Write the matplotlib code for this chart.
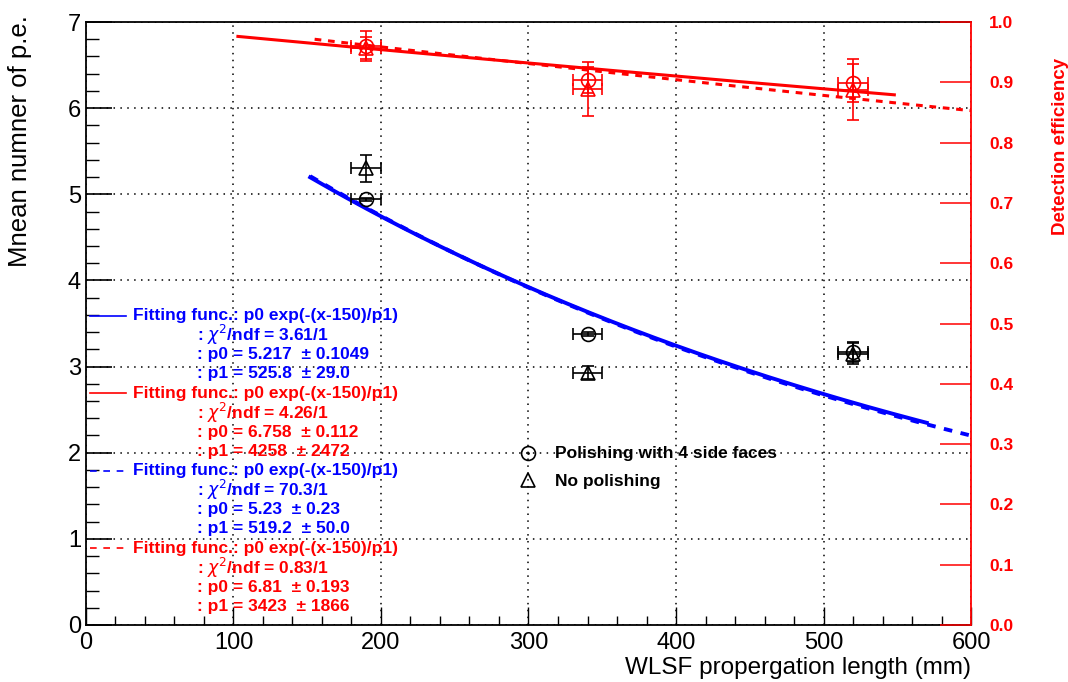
import numpy as np
import matplotlib.pyplot as plt
from matplotlib.ticker import MultipleLocator

plt.rcParams['font.family'] = ['Liberation Sans', 'DejaVu Sans']

# measured points: propagation length (mm)
length = [190, 340, 520]
length_err = [10, 10, 10]

# mean number of p.e.
pe_polished = [4.94, 3.38, 3.17]
pe_polished_err = [0.02, 0.02, 0.12]
pe_nopolish = [5.30, 2.93, 3.15]
pe_nopolish_err = [0.16, 0.08, 0.12]

# detection efficiency
eff_polished = [0.960, 0.904, 0.899]
eff_polished_err = [0.025, 0.022, 0.032]
eff_nopolish = [0.957, 0.889, 0.888]
eff_nopolish_err = [0.018, 0.045, 0.050]

# fit results p0 exp(-(x-150)/p1): (colour, style, x range, chi2, p0, p0 err, p1, p1 err)
fits = [
    ('blue', '-',  (152, 570), '3.61/1', '5.217', '0.1049', '525.8', '29.0'),
    ('red',  '-',  (103, 548), '4.26/1', '6.758', '0.112', '4258', '2472'),
    ('blue', '--', (152, 600), '70.3/1', '5.23', '0.23', '519.2', '50.0'),
    ('red',  '--', (155, 600), '0.83/1', '6.81', '0.193', '3423', '1866'),
]

fig = plt.figure(figsize=(10.68, 6.82), dpi=100)
ax = fig.add_axes([0.0805, 0.0836, 0.8287, 0.8841])
ax.set_xlim(0, 600)
ax.set_ylim(0, 7)

ax.xaxis.set_major_locator(MultipleLocator(100))
ax.xaxis.set_minor_locator(MultipleLocator(20))
ax.yaxis.set_major_locator(MultipleLocator(1))
ax.yaxis.set_minor_locator(MultipleLocator(0.2))
ax.tick_params(which='major', axis='y', direction='in', length=19, width=1.2, labelsize=17)
ax.tick_params(which='minor', axis='y', direction='in', length=9.5, width=1.0)
ax.tick_params(which='major', axis='x', direction='in', length=13, width=1.0, labelsize=17, pad=5)
ax.tick_params(which='minor', axis='x', direction='in', length=6.5, width=1.0)
ax.grid(True, which='major', color='black', linestyle=(0, (1, 3.5)), linewidth=1.1)
ax.set_axisbelow(True)
for s in ['left', 'bottom', 'top']:
    ax.spines[s].set_linewidth(1.3)
ax.spines['right'].set_visible(False)

ax.set_ylabel('Mnean numner of p.e.', fontsize=18.5, loc='top')
ax.yaxis.set_label_coords(-0.061, 1.012)
ax.set_xlabel('WLSF propergation length (mm)', fontsize=17.5, loc='right', labelpad=2)

# fitted curves (dashed first so the solid ones sit on top)
for colour, style, (x0, x1), chi2, p0, p0e, p1, p1e in sorted(fits, key=lambda f: f[1] == '-'):
    xs = np.linspace(x0, x1, 200)
    lw = 2.2 if colour == 'red' else 2.8
    ax.plot(xs, float(p0) * np.exp(-(xs - 150) / float(p1)), color=colour,
            linestyle=(0, (2.2, 2.2)) if style == '--' else '-', linewidth=lw, zorder=3)

# black points
ebar = dict(fmt='none', ecolor='black', elinewidth=1.2, capsize=4, capthick=1.2, zorder=4)
ax.errorbar(length, pe_polished, yerr=pe_polished_err, xerr=length_err, **ebar)
ax.errorbar(length, pe_nopolish, yerr=pe_nopolish_err, xerr=length_err, **ebar)
ax.plot(length, pe_polished, 'o', ms=10, mfc='none', mec='black', mew=1.2, zorder=5)
ax.plot(length, pe_nopolish, '^', ms=10, mfc='none', mec='black', mew=1.2, zorder=5)

# fit summary boxes on the left
y0 = 3.59
dy = 0.2250
for i, (colour, style, _, chi2, p0, p0e, p1, p1e) in enumerate(fits):
    yb = y0 - 4 * i * dy
    ax.plot([3, 27], [yb, yb], color=colour, linewidth=1.2,
            linestyle=(0, (4, 4)) if style == '--' else '-', clip_on=False)
    ax.text(32, yb, 'Fitting func.: p0 exp(-(x-150)/p1)', color=colour,
            fontsize=12.5, fontweight='bold', va='center')
    lines = [r': $\chi^{2}$/ndf = ' + chi2,
             ': p0 = ' + p0 + '  \u00b1 ' + p0e,
             ': p1 = ' + p1 + '  \u00b1 ' + p1e]
    for j, t in enumerate(lines):
        ax.text(75, yb - (j + 1) * dy, t, color=colour,
                fontsize=12.5, fontweight='bold', va='center')

# marker legend
ax.plot([300], [2.0], 'o', ms=10, mfc='none', mec='black', mew=1.2)
ax.plot([300], [2.0], '.', ms=2, color='black')
ax.plot([300], [1.68], '^', ms=10, mfc='none', mec='black', mew=1.2)
ax.text(318, 1.99, 'Polishing with 4 side faces', fontsize=12.5, fontweight='bold', va='center')
ax.text(318, 1.67, 'No polishing', fontsize=12.5, fontweight='bold', va='center')

# detection efficiency on the right axis
ax2 = ax.twinx()
ax2.set_ylim(0, 1)
ax2.yaxis.set_major_locator(MultipleLocator(0.1))
ax2.yaxis.set_major_formatter(plt.FormatStrFormatter('%.1f'))
ax2.tick_params(axis='y', direction='in', length=22, width=1.1, colors='red', pad=13,
                labelsize=12.5)
for lab in ax2.get_yticklabels():
    lab.set_fontweight('bold')
for s in ['left', 'bottom', 'top']:
    ax2.spines[s].set_visible(False)
ax2.spines['right'].set_color('red')
ax2.spines['right'].set_linewidth(1.3)
ax2.set_ylabel('Detection efficiency', color='red', fontsize=13.5, fontweight='bold')
ax2.yaxis.set_label_coords(1.0915, 0.794)

rbar = dict(fmt='none', ecolor='red', elinewidth=1.2, capsize=4, capthick=1.2, zorder=4)
ax2.errorbar(length, eff_polished, yerr=eff_polished_err, xerr=length_err, **rbar)
ax2.errorbar(length, eff_nopolish, yerr=eff_nopolish_err, xerr=length_err, **rbar)
ax2.plot(length, eff_polished, 'o', ms=10, mfc='none', mec='red', mew=1.2, zorder=5)
ax2.plot(length, eff_nopolish, '^', ms=10, mfc='none', mec='red', mew=1.2, zorder=5)

plt.savefig('out.png', dpi=100)
